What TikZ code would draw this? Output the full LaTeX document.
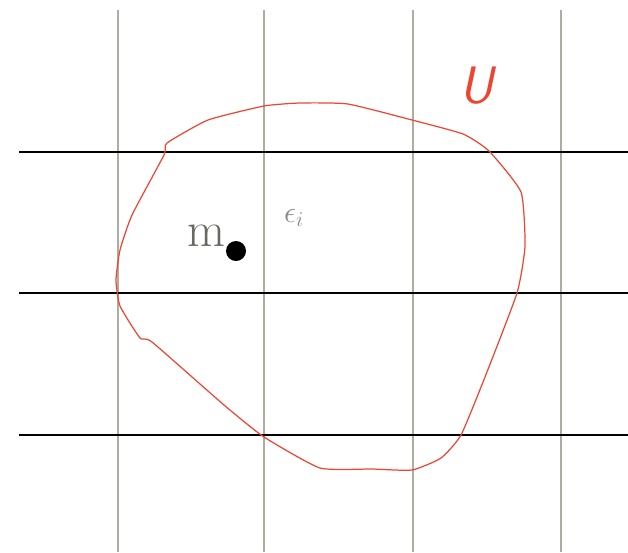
\documentclass[tikz,border=0pt]{standalone}
\usepackage{tikz}
\usetikzlibrary{positioning}
\definecolor{gridGrey}{RGB}{175, 172, 160}
\definecolor{setRed}{RGB}{236, 70, 50}
\definecolor{labelGrey}{RGB}{105, 105, 100}

\begin{document}
\begin{tikzpicture}[
    x=0.02cm, y=-0.02cm,
    vline/.style={draw=gridGrey, line width=1.5pt},
    hline/.style={draw=black, line width=1pt},
    region/.style={draw=setRed, line width=0.7pt},
  ]
    \useasboundingbox (0,0) rectangle (628,552);

    % grid
    \foreach \x in {118, 264, 413, 561}
      \draw[vline] (\x,10) -- (\x,552);
    \foreach \y in {152, 293, 435}
      \draw[hline] (19,\y) -- (628,\y);

    % the open set U
    \draw[region] plot[smooth cycle, tension=0.3] coordinates {
      (167,143) (208,120) (264,106) (300,103) (348,104) (412,120)
      (463,134) (489,151) (521,192) (525,246) (517,293) (485,377)
      (461,435) (441,458) (412,470) (372,469) (320,468) (264,437)
      (224,405) (152,342) (140,338) (120,306) (116,280) (120,250)
      (132,215) (164,155)};

    % labels
    \fill[black] (236,251) circle (10);
    \node[text=labelGrey, font=\fontsize{28}{30}\selectfont, anchor=base east, inner sep=0pt] (mLabel) at (226,246) {m};
    \node[text=labelGrey!80, font=\fontsize{18}{20}\selectfont] (epsLabel) at (294,218) {$\epsilon_i$};
    \node[text=setRed, font=\fontsize{30}{32}\selectfont\sffamily\itshape] (uLabel) at (476,86) {U};
  \end{tikzpicture}
\end{document}
